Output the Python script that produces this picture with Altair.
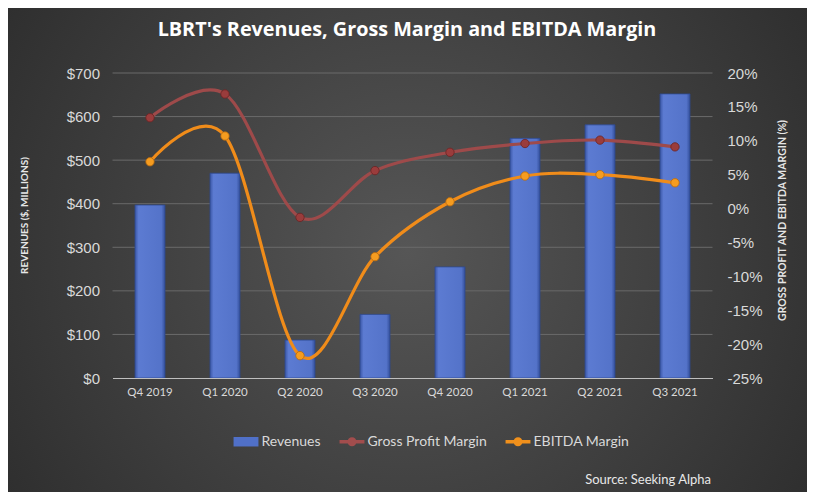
import altair as alt
import pandas as pd

# ---- data ----
quarters = ["Q4 2019", "Q1 2020", "Q2 2020", "Q3 2020", "Q4 2020", "Q1 2021", "Q2 2021", "Q3 2021"]
revenues = [397, 470, 87, 146, 255, 550, 581, 652]
gross_margin = [13.4, 16.9, -1.3, 5.6, 8.3, 9.6, 10.1, 9.1]
ebitda_margin = [6.9, 10.7, -21.7, -7.1, 1.0, 4.8, 5.0, 3.8]

series_names = ["Revenues", "Gross Profit Margin", "EBITDA Margin"]
series_colors = ["#5070c8", "#a24d4d", "#f0901c"]
rev_ticks = [0, 100, 200, 300, 400, 500, 600, 700]
grid_values = [100, 200, 300, 400, 500, 600, 700]
pct_ticks = [-25, -20, -15, -10, -5, 0, 5, 10, 15, 20]
title_text = "LBRT's Revenues, Gross Margin and EBITDA Margin"
source_text = "Source: Seeking Alpha"

df = pd.DataFrame({"quarter": quarters, "revenue": revenues,
                   "gross": gross_margin, "ebitda": ebitda_margin})

FONT = "Lato"
NUMFONT = "Liberation Sans"
LABEL = "#d9d9d9"

bg_grad = {"gradient": "radial", "x1": 0.5, "y1": 0.5, "r1": 0, "x2": 0.5, "y2": 0.5, "r2": 0.75,
           "stops": [{"offset": 0, "color": "#565656"}, {"offset": 1, "color": "#242424"}]}
bar_grad = {"gradient": "linear", "x1": 0, "y1": 0, "x2": 1, "y2": 0,
            "stops": [{"offset": 0, "color": "#3b57a6"}, {"offset": 0.12, "color": "#5c7bd2"},
                      {"offset": 0.88, "color": "#5473c9"}, {"offset": 1, "color": "#34509c"}]}

x_enc = alt.X("quarter:N", sort=quarters,
              scale=alt.Scale(paddingInner=0.6, paddingOuter=0.3),
              axis=alt.Axis(title=None, labelAngle=0, labelColor=LABEL, labelFont=FONT,
                            labelFontSize=11.5, labelPadding=8, ticks=False,
                            domainColor="#bfbfbf", domainWidth=1, grid=False, zindex=1))

bg = alt.Chart(pd.DataFrame({"a": [0]})).mark_rect(color=bg_grad).encode(
    x=alt.value(-104.5), x2=alt.value(694.5), y=alt.value(-65), y2=alt.value(419))

grid = alt.Chart(pd.DataFrame({"v": grid_values})).mark_rule(color="#6a6a6a", strokeWidth=1).encode(
    y=alt.Y("v:Q", scale=alt.Scale(domain=[0, 700], nice=False), axis=None))

bars = alt.Chart(df).mark_bar(color=bar_grad, stroke="#2f4a90", strokeWidth=0.8).encode(
    x=x_enc,
    y=alt.Y("revenue:Q", scale=alt.Scale(domain=[0, 700], nice=False),
            axis=alt.Axis(title="REVENUES ($, MILLIONS)", orient="left", values=rev_ticks,
                          format="$,.0f", grid=False, ticks=False, domain=False,
                          labelColor=LABEL, labelFont=NUMFONT, labelFontSize=15, labelPadding=13,
                          titleColor="#e6e6e6", titleFont=FONT, titleFontSize=10,
                          titleFontWeight="bold", titleX=-88.5, titleY=142, titleAngle=270,
                          titleAlign="center", titleBaseline="middle", zindex=1)))

pct_scale = alt.Scale(domain=[-25, 20], nice=False, zero=False)

gross = alt.Chart(df).mark_line(
    interpolate="cardinal", color="#9e4a4a", strokeWidth=3.2,
    point=alt.OverlayMarkDef(filled=True, size=70, color="#9a3c3c", stroke="#6b2323", strokeWidth=0.8)
).encode(
    x=x_enc,
    y=alt.Y("gross:Q", scale=pct_scale,
            axis=alt.Axis(title="GROSS PROFIT AND EBITDA MARGIN (%)", orient="right", values=pct_ticks,
                          labelExpr="datum.value + '%'", grid=False, ticks=False, domain=False,
                          labelColor=LABEL, labelFont=NUMFONT, labelFontSize=15, labelPadding=14.5,
                          titleColor="#e6e6e6", titleFont=FONT, titleFontSize=10.5,
                          titleFontWeight="bold", titleX=70, titleY=147, titleAngle=270,
                          titleAlign="center", titleBaseline="middle", zindex=1)))

ebitda = alt.Chart(df).mark_line(
    interpolate="cardinal", color="#f08c1a", strokeWidth=3.2,
    point=alt.OverlayMarkDef(filled=True, size=70, color="#f59c20", stroke="#b86a0c", strokeWidth=0.8)
).encode(
    x=x_enc,
    y=alt.Y("ebitda:Q", scale=pct_scale, axis=None))

rect_path = "M-1,-0.38 H1 V0.38 H-1 Z"
line_path = ("M-1,-0.14 H1 V0.14 H-1 Z "
             "M0.36,0 A0.36,0.36 0 1,1 -0.36,0 A0.36,0.36 0 1,1 0.36,0 Z")
legend_shapes = [rect_path, line_path, line_path]

legend_common = dict(title=None, orient="none", legendX=121, legendY=356, direction="horizontal",
                     columns=3, labelColor=LABEL, labelFont=FONT, labelFontSize=14,
                     symbolSize=620, symbolStrokeWidth=0, labelOffset=3, columnPadding=18,
                     symbolOpacity=1)

# legend-only layer: its points sit outside the clipped plot area, only the legend shows
legend_layer = alt.Chart(pd.DataFrame({"series": series_names})).mark_point(
    filled=True, clip=True).encode(
    x=alt.value(-30), y=alt.value(-30),
    color=alt.Color("series:N", sort=series_names,
                    scale=alt.Scale(domain=series_names, range=series_colors),
                    legend=alt.Legend(**legend_common)),
    shape=alt.Shape("series:N", sort=series_names,
                    scale=alt.Scale(domain=series_names, range=legend_shapes),
                    legend=alt.Legend(**legend_common)))

title = alt.Chart(pd.DataFrame({"t": [title_text]})).mark_text(
    align="center", baseline="middle", font="Open Sans", fontSize=19.8, fontWeight="bold",
    color="white").encode(text="t:N", x=alt.value(294.5), y=alt.value(-43))

src = alt.Chart(pd.DataFrame({"t": [source_text]})).mark_text(
    align="right", baseline="middle", font=FONT, fontSize=13, color="#e8e8e8").encode(
    text="t:N", x=alt.value(598.5), y=alt.value(407))

chart = alt.layer(bg, grid, bars, gross, ebitda, legend_layer, title, src).resolve_scale(
    y="independent"
).properties(
    width=600, height=305,
    padding={"left": 104.5, "top": 65, "right": 94.5, "bottom": 114},
    autosize=alt.AutoSizeParams(type="none"),
    background="#2e2e2e",
).configure_view(strokeWidth=0)

chart.save("out.html", embed_options={"renderer": "svg", "actions": False})
